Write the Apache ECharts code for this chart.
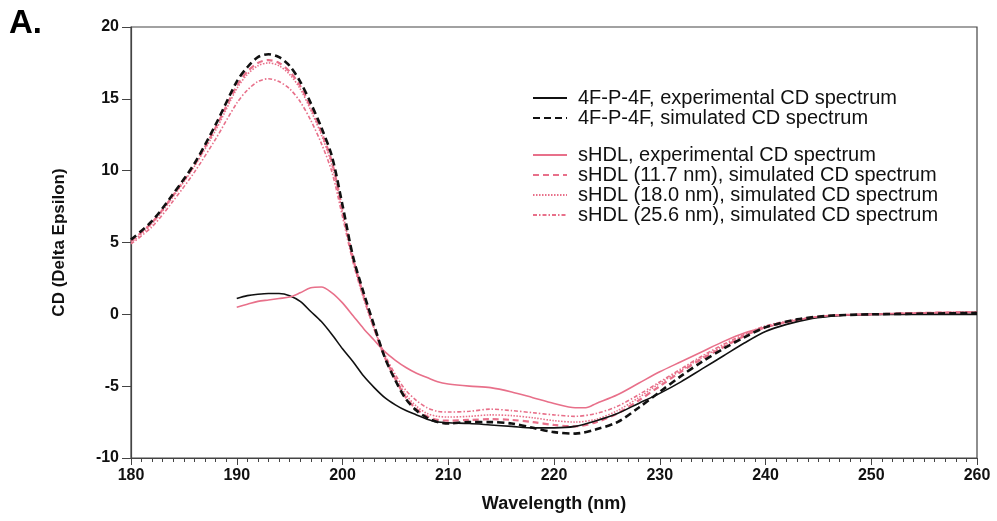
<!DOCTYPE html>
<html>
<head>
<meta charset="utf-8">
<script src="https://cdn.jsdelivr.net/npm/echarts@6/dist/echarts.min.js"></script>
<style>html,body{margin:0;padding:0;background:#fff}#c{width:997px;height:521px}</style>
</head>
<body>
<div id="c"></div>
<script>
// Wavelength grids (nm)
const simX = [180,182,184,186,188,190,191,192,193,194,195,196,197,198,199,200,201,202,203,204,205,206,207,208,209,210,212,214,216,218,220,222,224,226,228,230,232,234,236,238,240,243,246,250,255,260];
const expX = [190,191,192,193,194,195,196,197,198,199,200,201,202,203,204,205,206,207,208,209,210,212,214,216,218,220,222,224,226,228,230,232,234,236,238,240,242,244,246,248,250,255,260];
const hdlExpX = [190,191,192,193,194,195,196,197,198,199,200,201,202,203,204,205,206,207,208,209,210,212,214,216,218,220,222,223,224,226,228,230,232,234,236,238,240,243,246,250,255,260];

// CD values (Delta Epsilon)
const pepExp = [1.1,1.3,1.4,1.45,1.45,1.3,0.9,0.2,-0.5,-1.4,-2.4,-3.3,-4.3,-5.1,-5.8,-6.3,-6.7,-7.0,-7.3,-7.5,-7.55,-7.6,-7.7,-7.8,-7.9,-7.9,-7.8,-7.4,-6.9,-6.2,-5.5,-4.7,-3.8,-2.9,-2.0,-1.2,-0.7,-0.35,-0.15,-0.05,0.0,0.0,0.0];
const pepSim = [5.2,6.5,8.4,10.5,13.2,16.2,17.2,17.9,18.1,17.9,17.3,16.2,14.7,13.0,11.0,7.6,4.0,1.5,-0.8,-3.0,-4.6,-5.9,-6.7,-7.2,-7.5,-7.6,-7.5,-7.5,-7.6,-7.9,-8.2,-8.3,-8.0,-7.5,-6.5,-5.4,-4.3,-3.3,-2.4,-1.6,-0.9,-0.35,-0.1,0.0,0.05,0.1];
const hdlExp = [0.5,0.7,0.9,1.0,1.1,1.2,1.5,1.85,1.9,1.5,0.8,-0.1,-1.0,-1.8,-2.6,-3.2,-3.7,-4.1,-4.4,-4.7,-4.85,-5.0,-5.1,-5.4,-5.8,-6.2,-6.5,-6.5,-6.2,-5.6,-4.8,-4.0,-3.3,-2.6,-1.9,-1.3,-0.9,-0.4,-0.1,0.0,0.1,0.15];
const hdl117 = [5.1,6.4,8.3,10.4,13.0,15.9,16.9,17.5,17.7,17.5,16.9,15.9,14.4,12.7,10.6,7.3,3.9,1.3,-1.0,-3.0,-4.5,-5.8,-6.6,-7.1,-7.35,-7.4,-7.35,-7.3,-7.35,-7.5,-7.7,-7.8,-7.5,-6.9,-6.0,-5.0,-4.0,-3.1,-2.3,-1.5,-0.9,-0.4,-0.1,0.0,0.1,0.15];
const hdl180 = [5.0,6.3,8.2,10.3,12.8,15.7,16.7,17.3,17.5,17.3,16.7,15.7,14.2,12.5,10.4,7.1,3.8,1.2,-1.0,-2.9,-4.4,-5.6,-6.4,-6.9,-7.1,-7.15,-7.1,-7.0,-7.05,-7.2,-7.4,-7.5,-7.3,-6.7,-5.8,-4.8,-3.9,-3.0,-2.2,-1.5,-0.9,-0.4,-0.1,0.0,0.1,0.15];
const hdl256 = [4.9,6.1,7.9,9.9,12.2,14.7,15.6,16.2,16.4,16.2,15.7,14.8,13.5,11.9,9.9,6.8,3.6,1.1,-1.0,-2.8,-4.2,-5.3,-6.0,-6.5,-6.75,-6.8,-6.75,-6.6,-6.7,-6.85,-7.0,-7.1,-6.9,-6.4,-5.6,-4.7,-3.8,-2.9,-2.1,-1.4,-0.8,-0.35,-0.1,0.0,0.1,0.15];

const names = [
  '4F-P-4F, experimental CD spectrum',
  '4F-P-4F, simulated CD spectrum',
  'sHDL, experimental CD spectrum',
  'sHDL (11.7 nm), simulated CD spectrum',
  'sHDL (18.0 nm), simulated CD spectrum',
  'sHDL (25.6 nm), simulated CD spectrum'
];
const yTicks = [-10,-5,0,5,10,15,20];
const xTicks = [180,190,200,210,220,230,240,250,260];

const zip = (xs, ys) => xs.map((x, i) => [x, ys[i]]);
const BLACK = '#111111', PINK = '#e8708a';
const FONT = 'Liberation Sans, Arial, sans-serif';

function line(name, xs, ys, color, width, type, z) {
  return { name, type: 'line', data: zip(xs, ys), smooth: 0.3, symbol: 'none', showSymbol: false,
    lineStyle: { color, width, type }, itemStyle: { color }, z: z || 2 };
}

const legendText = { fontFamily: FONT, fontSize: 20, lineHeight: 20, color: '#111', padding: [0, 0, 0, 6] };

const chart = echarts.init(document.getElementById('c'));
chart.setOption({
  animation: false,
  backgroundColor: '#fff',
  grid: { left: 131, right: 20, top: 27, bottom: 63, show: true, borderColor: '#444', borderWidth: 1.2, backgroundColor: 'transparent' },
  xAxis: {
    type: 'value', min: 180, max: 260, interval: 10,
    name: 'Wavelength (nm)', nameLocation: 'middle', nameGap: 37,
    nameTextStyle: { fontFamily: FONT, fontWeight: 'bold', fontSize: 18, color: '#111' },
    axisLine: { show: true, onZero: false, lineStyle: { color: '#444', width: 1.2 } },
    axisTick: { show: true, inside: false, length: 7, lineStyle: { color: '#444' } },
    minorTick: { show: true, splitNumber: 10, length: 4, lineStyle: { color: '#444' } },
    splitLine: { show: false },
    axisLabel: { fontFamily: FONT, fontWeight: 'bold', fontSize: 16, color: '#111', margin: 10,
      formatter: v => xTicks.includes(v) ? String(v) : '' }
  },
  yAxis: {
    type: 'value', min: -10, max: 20, interval: 5,
    name: 'CD (Delta Epsilon)', nameLocation: 'middle', nameGap: 63, nameRotate: 90,
    nameTextStyle: { fontFamily: FONT, fontWeight: 'bold', fontSize: 17, color: '#111' },
    axisLine: { show: true, onZero: false, lineStyle: { color: '#444', width: 1.2 } },
    axisTick: { show: true, inside: false, length: 9, lineStyle: { color: '#444' } },
    splitLine: { show: false },
    axisLabel: { fontFamily: FONT, fontWeight: 'bold', fontSize: 16, color: '#111', margin: 12,
      formatter: v => yTicks.includes(v) ? String(v) : '' }
  },
  legend: [
    { data: names.slice(0, 2), orient: 'vertical', left: 532, top: 88, padding: 0, itemWidth: 34, itemHeight: 10, itemGap: 0,
      itemStyle: { opacity: 0 }, textStyle: legendText, selectedMode: false },
    { data: names.slice(2), orient: 'vertical', left: 532, top: 145, padding: 0, itemWidth: 34, itemHeight: 10, itemGap: 0,
      itemStyle: { opacity: 0 }, textStyle: legendText, selectedMode: false }
  ],
  graphic: [
    { type: 'text', left: 9, top: 7, style: { text: 'A.', font: 'bold 33px ' + FONT, fill: '#000' } }
  ],
  series: [
    line(names[0], expX, pepExp, BLACK, 1.6, 'solid', 3),
    line(names[1], simX, pepSim, BLACK, 2.6, [7, 4], 4),
    line(names[2], hdlExpX, hdlExp, PINK, 1.6, 'solid', 3),
    line(names[3], simX, hdl117, PINK, 2.2, [6, 4], 2),
    line(names[4], simX, hdl180, PINK, 1.6, [1.5, 1.5], 2),
    line(names[5], simX, hdl256, PINK, 1.6, [4, 2, 1.5, 2], 2)
  ]
});
</script>
</body>
</html>
